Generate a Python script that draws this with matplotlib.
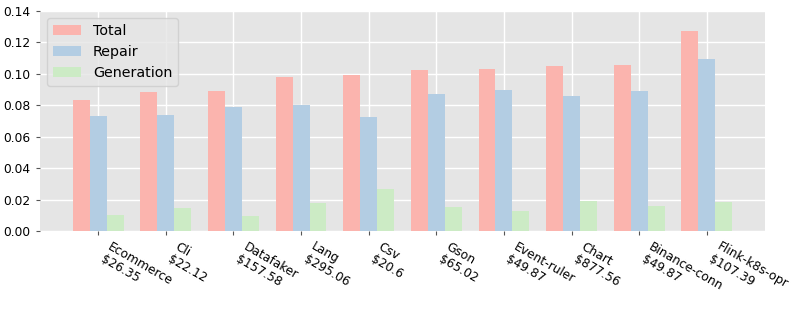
import matplotlib
matplotlib.use("Agg")
import matplotlib.pyplot as plt
import numpy as np

projects = ["Ecommerce", "Cli", "Datafaker", "Lang", "Csv", "Gson",
            "Event-ruler", "Chart", "Binance-conn", "Flink-k8s-opr"]
costs = ["$26.35", "$22.12", "$157.58", "$295.06", "$20.6", "$65.02",
         "$49.87", "$877.56", "$49.87", "$107.39"]
total = [0.0836, 0.0885, 0.0891, 0.0980, 0.0989, 0.1023, 0.1029, 0.1052, 0.1055, 0.1275]
repair = [0.0730, 0.0736, 0.0791, 0.0802, 0.0724, 0.0868, 0.0899, 0.0861, 0.0893, 0.1093]
generation = [0.0102, 0.0144, 0.0097, 0.0176, 0.0265, 0.0153, 0.0127, 0.0191, 0.0161, 0.0183]

labels = [f"{p}\n{c}" for p, c in zip(projects, costs)]

fig = plt.figure(figsize=(7.97, 3.10), dpi=100)
ax = fig.add_axes([0.050, 0.255, 0.910, 0.710])
ax.set_facecolor("#E5E5E5")
for s in ax.spines.values():
    s.set_visible(False)
ax.grid(True, color="white", linewidth=1.0)
ax.set_axisbelow(True)

x = np.arange(len(projects))
w = 0.25
ax.bar(x - w, total, w, color="#fbb4ae", label="Total")
ax.bar(x, repair, w, color="#b3cde3", label="Repair")
ax.bar(x + w, generation, w, color="#ccebc5", label="Generation")

ax.set_ylim(0, 0.14)
ax.set_yticks(np.arange(0, 0.141, 0.02))
ax.set_yticklabels([f"{v:.2f}" for v in np.arange(0, 0.141, 0.02)], fontsize=8.8)
ax.set_xticks(x)
ax.set_xticklabels(labels, rotation=-30, ha="left", fontsize=8.8)
ax.tick_params(axis="both", color="#555555", length=3)

ax.legend(loc="upper left", fontsize=10.3, facecolor="#E5E5E5", edgecolor="0.8", framealpha=0.8)

fig.savefig("out.png", dpi=100)
